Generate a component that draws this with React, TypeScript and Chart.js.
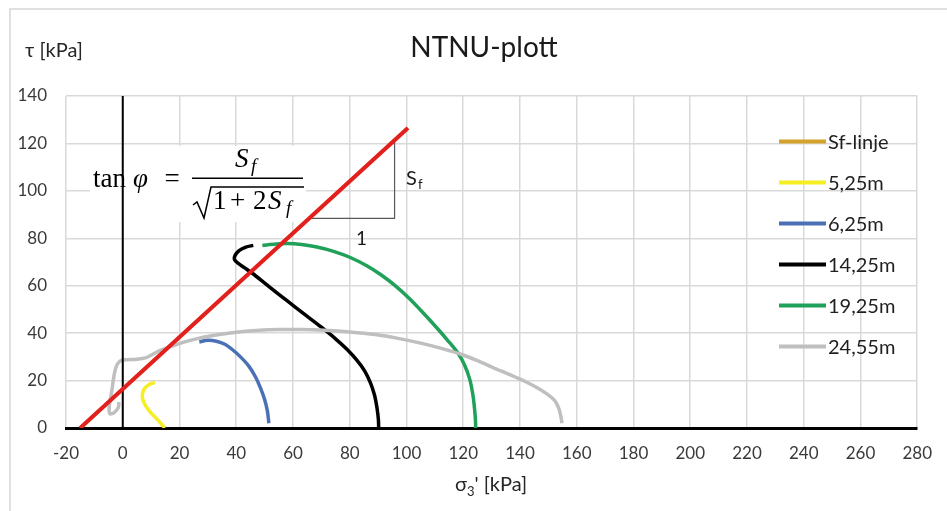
import React, { useEffect, useRef } from 'react';
import { Chart, registerables } from 'chart.js';

Chart.register(...registerables);

// ---- data ----
const xTicks = [-20, 0, 20, 40, 60, 80, 100, 120, 140, 160, 180, 200, 220, 240, 260, 280];
const yTicks = [0, 20, 40, 60, 80, 100, 120, 140];

const sfX = [-15, 100.5];
const sfY = [0, 126.5];

const zeroX = [0, 0];
const zeroY = [0, 140];

const triX = [65.7, 95.8, 95.8];
const triY = [88.4, 88.4, 121];

const s525X = [14.8, 13.2, 11.5, 9.8, 8.3, 7.3, 6.9, 7.1, 7.8, 8.9, 10.2, 11.3];
const s525Y = [0, 2.3, 4.5, 6.6, 8.9, 11.2, 13.1, 15.2, 16.8, 18, 18.8, 19.2];

const s625X = [27, 30, 33, 36, 38.7, 41.5, 44.5, 46.8, 48.5, 50, 51, 51.5];
const s625Y = [36.3, 37, 36.6, 35.3, 33, 30, 26, 21.5, 17, 12, 7, 2];

const s1425X = [46, 43.4, 41, 39.6, 39.4, 40.6, 43, 46.8, 52, 58, 64, 70, 75, 79, 82.5, 85.3, 87.3, 88.7, 89.6, 90.1, 90.2];
const s1425Y = [77, 76.3, 74.8, 72.8, 71, 69.5, 67.5, 64.2, 59.2, 53.6, 48, 42.5, 37.6, 33.2, 28.6, 24, 19, 14, 8.5, 3.5, 0];

const s1925X = [49.2, 54, 58, 63, 68, 74, 80, 86, 91, 96, 101, 106, 110.5, 114.5, 118, 120.5, 122.3, 123.4, 124, 124.3, 124.4];
const s1925Y = [77, 77.6, 77.8, 77.4, 76.4, 74.6, 72, 68.4, 64.6, 60, 54.6, 48.4, 42.5, 37, 31.8, 26.5, 20.5, 14, 8, 3.5, 0];

const s2455X = [-1.3, -1.6, -3, -4.5, -4.8, -4.4, -3.8, -3.3, -2.4, -1, 1.5, 5, 8.3, 10.6, 13, 15.3, 21, 27, 34, 40, 47, 55, 63, 71, 80, 89, 97, 105, 112, 119, 125, 131, 137, 142, 146.5, 150, 152.3, 153.6, 154.4, 154.8];
const s2455Y = [11, 8.5, 6.5, 6, 8.2, 12, 16, 20.5, 25.5, 28.2, 28.8, 29, 29.7, 31.1, 32.6, 33.6, 36, 37.9, 39.4, 40.4, 41.1, 41.5, 41.5, 41.2, 40.5, 39.4, 37.8, 35.8, 33.7, 31.2, 28.4, 25.2, 22.2, 19.5, 16.7, 14, 11.5, 8.5, 5, 2];

const seriesLabels = ['Sf-linje', '5,25m', '6,25m', '14,25m', '19,25m', '24,55m'];
const seriesColors = ['#D4A22C', '#F4EE22', '#4A70B6', '#000000', '#1FA159', '#BFBFBF'];

const pts = (xs: number[], ys: number[]) => xs.map((x, i) => ({ x, y: ys[i] }));

const SANS = 'Lato, "Noto Sans", sans-serif';
const SERIF = '"Liberation Serif", "DejaVu Serif", serif';

const decor = {
  id: 'decor',
  beforeDraw(chart: any) {
    const ctx = chart.ctx;
    ctx.save();
    ctx.fillStyle = '#ffffff';
    ctx.fillRect(0, 0, chart.width, chart.height);
    ctx.strokeStyle = '#d6d6d6';
    ctx.lineWidth = 1.5;
    ctx.beginPath();
    ctx.moveTo(10, chart.height);
    ctx.lineTo(10, 9);
    ctx.lineTo(chart.width, 9);
    ctx.stroke();
    ctx.restore();
  },
  beforeDatasetsDraw(chart: any) {
    const ctx = chart.ctx;
    ctx.save();
    // formula (white box over the grid)
    ctx.fillStyle = '#ffffff';
    ctx.fillRect(90, 146, 216, 76);
    ctx.fillStyle = '#000';
    ctx.textBaseline = 'alphabetic';
    ctx.textAlign = 'left';
    ctx.font = `27px ${SERIF}`;
    ctx.fillText('tan', 93, 187);
    ctx.font = `italic 27px ${SERIF}`;
    ctx.fillText('φ', 133, 187);
    ctx.font = `27px ${SERIF}`;
    ctx.textAlign = 'center';
    ctx.fillText('=', 172, 187);
    ctx.textAlign = 'left';
    ctx.fillRect(192, 177.5, 111, 1.5);
    ctx.font = `italic 27px ${SERIF}`;
    ctx.fillText('S', 235, 167);
    ctx.font = `italic 19px ${SERIF}`;
    ctx.fillText('f', 251, 172);
    ctx.strokeStyle = '#000';
    ctx.lineWidth = 1.5;
    ctx.beginPath();
    ctx.moveTo(193, 205);
    ctx.lineTo(197, 202);
    ctx.lineTo(204, 218);
    ctx.lineTo(211, 187);
    ctx.lineTo(304, 187);
    ctx.stroke();
    ctx.font = `27px ${SERIF}`;
    ctx.fillText('1', 213, 209);
    ctx.fillText('+', 230, 209);
    ctx.fillText('2', 253, 209);
    ctx.font = `italic 27px ${SERIF}`;
    ctx.fillText('S', 268, 209);
    ctx.font = `italic 19px ${SERIF}`;
    ctx.fillText('f', 286, 214);
    ctx.restore();
  },
  afterDraw(chart: any) {
    const ctx = chart.ctx;
    ctx.save();
    ctx.fillStyle = '#1a1a1a';
    ctx.textBaseline = 'alphabetic';
    // title
    ctx.font = `28px ${SANS}`;
    ctx.textAlign = 'center';
    ctx.fillText('NTNU-plott', 484, 57);
    // y axis title
    ctx.textAlign = 'left';
    ctx.font = `20px ${SANS}`;
    ctx.fillStyle = '#262626';
    ctx.fillText('τ [kPa]', 25, 57);
    // x axis title
    let x = 455;
    ctx.fillText('σ', x, 491);
    x += ctx.measureText('σ').width;
    ctx.font = `13px ${SANS}`;
    ctx.fillText('3', x, 496);
    x += ctx.measureText('3').width;
    ctx.font = `20px ${SANS}`;
    ctx.fillText("' [kPa]", x, 491);

    // slope labels
    ctx.font = `20px ${SANS}`;
    ctx.fillStyle = '#1a1a1a';
    ctx.fillText('S', 406, 185);
    ctx.font = `13px ${SANS}`;
    ctx.fillText('f', 418, 189);
    ctx.font = `19px ${SANS}`;
    ctx.fillText('1', 356, 245);

    // legend
    const items = chart.data.datasets.filter((d: any) => d.label);
    items.forEach((d: any, i: number) => {
      const cy = 141.5 + i * 41;
      ctx.strokeStyle = d.borderColor;
      ctx.lineWidth = 4;
      ctx.beginPath();
      ctx.moveTo(779, cy);
      ctx.lineTo(826, cy);
      ctx.stroke();
      ctx.fillStyle = '#1f1f1f';
      ctx.font = `20px ${SANS}`;
      ctx.textBaseline = 'middle';
      ctx.fillText(d.label, 828, cy + 1);
    });
    ctx.restore();
  },
};

export default function App() {
  const ref = useRef<HTMLCanvasElement>(null);
  useEffect(() => {
    if (!ref.current) return;
    const base = { showLine: true, pointRadius: 0, borderWidth: 3.5, fill: false, tension: 0.3 };
    const datasets: any[] = [
      { ...base, label: '', data: pts(sfX, sfY), borderColor: '#E3201E', borderWidth: 4, tension: 0, order: 0 },
      { ...base, label: '', data: pts(zeroX, zeroY), borderColor: '#000000', borderWidth: 2, tension: 0, order: 1 },
      { ...base, label: '', data: pts(triX, triY), borderColor: '#595959', borderWidth: 1.2, tension: 0, order: 9 },
      { ...base, label: seriesLabels[0], data: pts(sfX, sfY), borderColor: seriesColors[0], tension: 0, order: 8 },
      { ...base, label: seriesLabels[1], data: pts(s525X, s525Y), borderColor: seriesColors[1], order: 7 },
      { ...base, label: seriesLabels[2], data: pts(s625X, s625Y), borderColor: seriesColors[2], order: 6 },
      { ...base, label: seriesLabels[3], data: pts(s1425X, s1425Y), borderColor: seriesColors[3], order: 5 },
      { ...base, label: seriesLabels[4], data: pts(s1925X, s1925Y), borderColor: seriesColors[4], order: 4 },
      { ...base, label: seriesLabels[5], data: pts(s2455X, s2455Y), borderColor: seriesColors[5], order: 3 },
    ];
    const chart = new Chart(ref.current, {
      type: 'scatter',
      data: { datasets },
      plugins: [decor],
      options: {
        responsive: false,
        animation: false,
        devicePixelRatio: 1,
        layout: { padding: { left: 10, right: 23, top: 96, bottom: 43 } },
        plugins: { legend: { display: false }, tooltip: { enabled: false }, title: { display: false } },
        scales: {
          x: {
            type: 'linear',
            min: xTicks[0],
            max: xTicks[xTicks.length - 1],
            afterBuildTicks: (s: any) => { s.ticks = xTicks.map((v) => ({ value: v })); },
            afterFit: (s: any) => { s.height = 40; },
            ticks: { font: { family: SANS, size: 17 }, color: '#3a3a3a', padding: 15, maxRotation: 0, autoSkip: false },
            grid: { drawTicks: false, color: '#d9d9d9', lineWidth: 1.5 },
            border: { display: true, color: '#000000', width: 3 },
          },
          y: {
            type: 'linear',
            min: yTicks[0],
            max: yTicks[yTicks.length - 1],
            afterBuildTicks: (s: any) => { s.ticks = yTicks.map((v) => ({ value: v })); },
            afterFit: (s: any) => { s.width = 56; },
            ticks: { font: { family: SANS, size: 17 }, color: '#3a3a3a', padding: 19 },
            grid: { drawTicks: false, color: '#d9d9d9', lineWidth: 1.5 },
            border: { display: false },
          },
        },
      } as any,
    });
    return () => chart.destroy();
  }, []);
  return (
    <div style={{ position: 'fixed', left: 0, top: 0, width: 947, height: 511, background: '#fff' }}>
      <canvas ref={ref} width={947} height={511} style={{ width: 947, height: 511, display: 'block' }} />
    </div>
  );
}
